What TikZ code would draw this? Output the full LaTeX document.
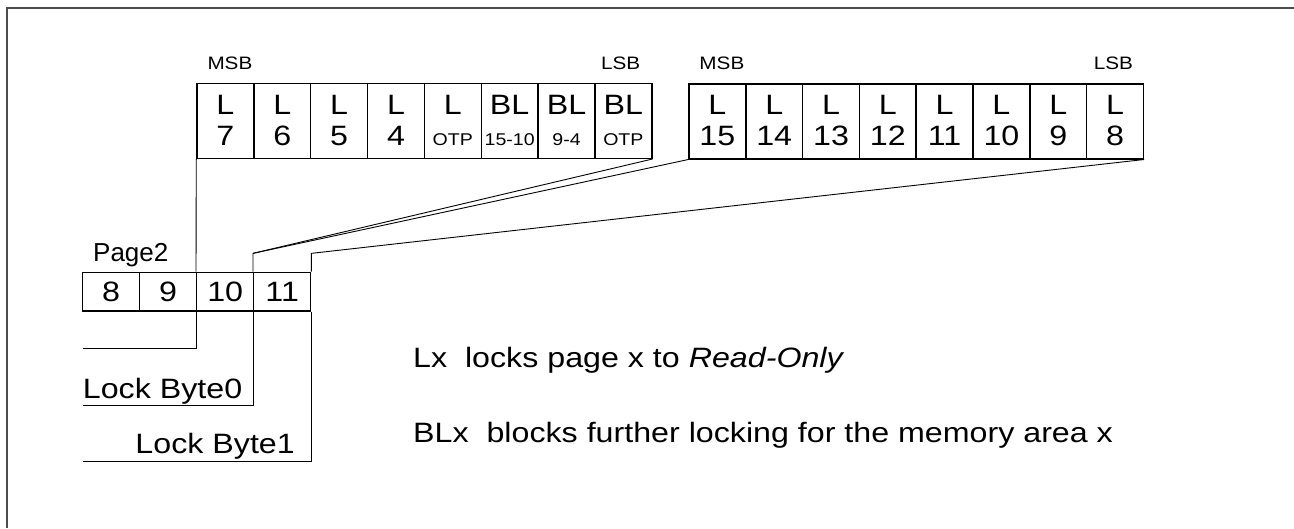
\documentclass[tikz,border=0pt]{standalone}
\usepackage{fontspec}
\setmainfont{Liberation Sans}
\newfontfamily\widefont[FakeStretch=1.15]{Liberation Sans}
\usetikzlibrary{positioning,calc}

\newcommand\bigtxt{\widefont\fontsize{28}{31}\selectfont}
\newcommand\subtxt{\widefont\fontsize{17}{20}\selectfont}
\newcommand\tagtxt{\widefont\fontsize{18}{20}\selectfont}

\begin{document}
\begin{tikzpicture}[
        x=1pt, y=-1pt,
        cell/.style={draw, line width=1.4pt, minimum width=56.85pt, minimum height=75pt, inner sep=0pt},
        pagecell/.style={draw, line width=1.4pt, minimum width=57pt, minimum height=38.7pt, inner sep=0pt},
        wire/.style={line width=0.9pt},
        tag/.style={font=\tagtxt, inner sep=0pt},
        note/.style={font=\bigtxt, inner sep=0pt, anchor=base west}
    ]
    \useasboundingbox (0,0) rectangle (1294,528);
    \draw[gray!60!black, line width=1.8pt] (7,528) -- (7,8) -- (1294,8);

    % lock byte 0
    \foreach \t/\b [count=\i] in {L/7, L/6, L/5, L/4, L/{\subtxt OTP}, BL/{\subtxt 15-10}, BL/{\subtxt 9-4}, BL/{\subtxt OTP}} {
        \node[cell] (a\i) at ({197+(\i-0.5)*56.85}, 120.8) {};
        \node[anchor=base, font=\bigtxt, inner sep=0pt] at ($(a\i.north)+(0,31.7)$) {\t};
        \node[anchor=base, font=\bigtxt, inner sep=0pt] at ($(a\i.north)+(0,62.7)$) {\b};
    }
    % lock byte 1
    \foreach \b [count=\i] in {15,14,...,8} {
        \node[cell] (b\i) at ({689+(\i-0.5)*56.8}, 121.3) {};
        \node[anchor=base, font=\bigtxt, inner sep=0pt] at ($(b\i.north)+(0,31.7)$) {L};
        \node[anchor=base, font=\bigtxt, inner sep=0pt] at ($(b\i.north)+(0,62.7)$) {\b};
    }
    \node[tag, anchor=base west] (msba) at ($(a1.north west)+(11,-13.3)$) {MSB};
    \node[tag, anchor=base east] (lsba) at ($(a8.north east)+(-12,-13.3)$) {LSB};
    \node[tag, anchor=base west] (msbb) at ($(b1.north west)+(11,-13.3)$) {MSB};
    \node[tag, anchor=base east] (lsbb) at ($(b8.north east)+(-11,-13.3)$) {LSB};

    % page 2
    \foreach \p [count=\k] in {8,9,10,11} {
        \node[pagecell] (pg\p) at ({82.7+(\k-0.5)*57}, 291.7) {};
        \node[anchor=base, font=\bigtxt, inner sep=0pt] at ($(pg\p.north)+(0,29.4)$) {\p};
    }
    \node[anchor=base west, font=\fontsize{26}{30}\selectfont, inner sep=0pt] (page) at (93,261.7) {Page2};

    % connections
    \coordinate (bendl) at ($(pg11.north west)+(0,-18.3)$);
    \coordinate (bendr) at ($(pg11.north east)+(0,-18.3)$);
    \draw[wire] (a1.south west) -- (pg10.north west);
    \draw[wire] (a8.south east) -- (bendl) -- (pg11.north west);
    \draw[wire] (b1.south west) -- (bendl);
    \draw[wire] (b8.south east) -- (bendr) -- (pg11.north east);

    \coordinate (open) at (82.7,348.3);
    \coordinate (lock0) at (82.7,405);
    \coordinate (lock1) at (82.7,461.7);
    \draw[wire] (pg10.south west) |- (open);
    \draw[wire] (pg11.south west) |- (lock0);
    \draw[wire] (pg11.south east) |- (lock1);
    \node[anchor=base west, font=\bigtxt, inner sep=0pt] (byte0) at ($(lock0)+(0,-7)$) {Lock Byte0};
    \node[anchor=base east, font=\bigtxt, inner sep=0pt] (byte1) at (295,453) {Lock Byte1};

    % legend
    \node[note] (lx) at (413,367) {Lx~ locks page x to \textit{Read-Only}};
    \node[note] (blx) at (413,442) {BLx~ blocks further locking for the memory area x};
\end{tikzpicture}
\end{document}
